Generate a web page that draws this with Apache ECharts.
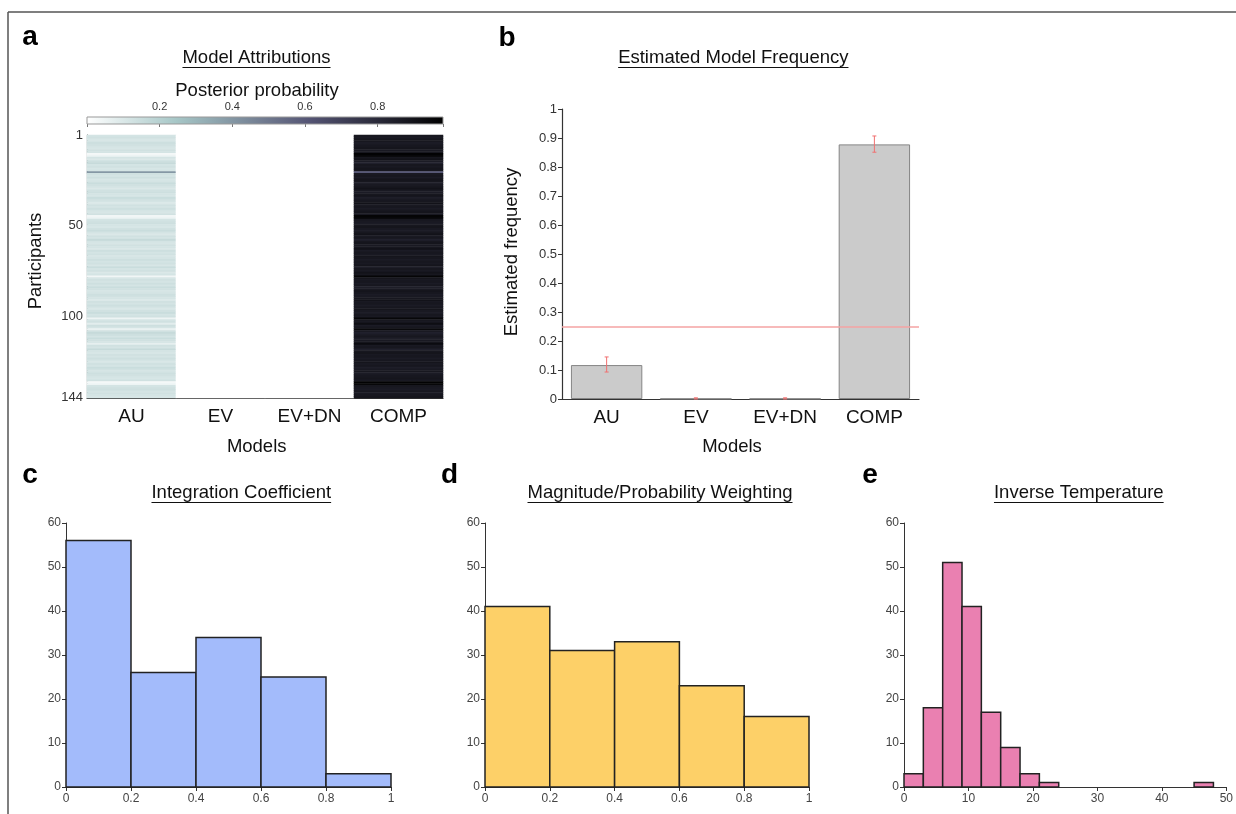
<!DOCTYPE html>
<html><head><meta charset="utf-8">
<script src="https://cdn.jsdelivr.net/npm/echarts@6/dist/echarts.min.js"></script>
<style>html,body{margin:0;padding:0;background:#fff}#c{width:1236px;height:814px}</style>
</head><body><div id="c"></div>
<script>
// ---------------- DATA ----------------
const models = ['AU', 'EV', 'EV+DN', 'COMP'];
const participantTicks = [1, 50, 100, 144];
const attribAU = [
  0.12,0.13,0.11,0.12,0.14,0.13,0.12,0.11,0.13,0.12,
  0.03,0.05,0.12,0.10,0.14,0.16,0.12,0.13,0.11,0.12,
  0.40,0.13,0.12,0.14,0.11,0.12,0.15,0.13,0.12,0.10,
  0.13,0.14,0.12,0.11,0.15,0.13,0.12,0.10,0.13,0.12,
  0.14,0.12,0.11,0.13,0.04,0.05,0.12,0.13,0.14,0.12,
  0.11,0.13,0.15,0.12,0.10,0.13,0.12,0.16,0.12,0.11,
  0.13,0.12,0.10,0.14,0.12,0.13,0.11,0.12,0.14,0.12,
  0.13,0.11,0.15,0.12,0.13,0.10,0.12,0.04,0.11,0.13,
  0.12,0.14,0.12,0.15,0.13,0.11,0.12,0.14,0.13,0.12,
  0.10,0.13,0.12,0.14,0.12,0.11,0.13,0.15,0.12,0.13,
  0.05,0.12,0.13,0.08,0.14,0.12,0.06,0.13,0.16,0.14,
  0.12,0.15,0.13,0.11,0.07,0.13,0.12,0.16,0.12,0.11,
  0.13,0.12,0.14,0.12,0.11,0.13,0.12,0.15,0.13,0.12,
  0.14,0.13,0.12,0.11,0.13,0.03,0.05,0.12,0.13,0.14,
  0.12,0.13,0.12,0.11
];
const attribEV = [
  0,0,0,0,0,0,0,0,0,0, 0,0,0,0,0,0,0,0,0,0, 0,0,0,0,0,0,0,0,0,0,
  0,0,0,0,0,0,0,0,0,0, 0,0,0,0,0,0,0,0,0,0, 0,0,0,0,0,0,0,0,0,0,
  0,0,0,0,0,0,0,0,0,0, 0,0,0,0,0,0,0,0,0,0, 0,0,0,0,0,0,0,0,0,0,
  0,0,0,0,0,0,0,0,0,0, 0,0,0,0,0,0,0,0,0,0, 0,0,0,0,0,0,0,0,0,0,
  0,0,0,0,0,0,0,0,0,0, 0,0,0,0,0,0,0,0,0,0, 0,0,0,0
];
const attribEVDN = [
  0,0,0,0,0,0,0,0,0,0, 0,0,0,0,0,0,0,0,0,0, 0,0,0,0,0,0,0,0,0,0,
  0,0,0,0,0,0,0,0,0,0, 0,0,0,0,0,0,0,0,0,0, 0,0,0,0,0,0,0,0,0,0,
  0,0,0,0,0,0,0,0,0,0, 0,0,0,0,0,0,0,0,0,0, 0,0,0,0,0,0,0,0,0,0,
  0,0,0,0,0,0,0,0,0,0, 0,0,0,0,0,0,0,0,0,0, 0,0,0,0,0,0,0,0,0,0,
  0,0,0,0,0,0,0,0,0,0, 0,0,0,0,0,0,0,0,0,0, 0,0,0,0
];
const attribCOMP = [
  0.88,0.87,0.89,0.88,0.86,0.87,0.88,0.89,0.87,0.88,
  0.97,0.95,0.88,0.90,0.86,0.84,0.88,0.87,0.89,0.88,
  0.60,0.87,0.88,0.86,0.89,0.88,0.85,0.87,0.88,0.90,
  0.87,0.86,0.88,0.89,0.85,0.87,0.88,0.90,0.87,0.88,
  0.86,0.88,0.89,0.87,0.96,0.95,0.88,0.87,0.86,0.88,
  0.89,0.87,0.85,0.88,0.90,0.87,0.88,0.84,0.88,0.89,
  0.87,0.88,0.90,0.86,0.88,0.87,0.89,0.88,0.86,0.88,
  0.87,0.89,0.85,0.88,0.87,0.90,0.88,0.96,0.89,0.87,
  0.88,0.86,0.88,0.85,0.87,0.89,0.88,0.86,0.87,0.88,
  0.90,0.87,0.88,0.86,0.88,0.89,0.87,0.85,0.88,0.87,
  0.95,0.88,0.87,0.92,0.86,0.88,0.94,0.87,0.84,0.86,
  0.88,0.85,0.87,0.89,0.93,0.87,0.88,0.84,0.88,0.89,
  0.87,0.88,0.86,0.88,0.89,0.87,0.88,0.85,0.87,0.88,
  0.86,0.87,0.88,0.89,0.87,0.97,0.95,0.88,0.87,0.86,
  0.88,0.87,0.88,0.89
];
const colorbarRange = [0, 0.98];
const colorbarTicks = [0.2, 0.4, 0.6, 0.8];

const freqMean = [0.117, 0.001, 0.001, 0.878];
const freqLow  = [0.093, 0.000, 0.000, 0.851];
const freqHigh = [0.145, 0.004, 0.004, 0.907];
const chanceLevel = 0.25;

const integBinStart = [0, 0.2, 0.4, 0.6, 0.8];
const integBinEnd   = [0.2, 0.4, 0.6, 0.8, 1.0];
const integCounts   = [56, 26, 34, 25, 3];

const weightBinStart = [0, 0.2, 0.4, 0.6, 0.8];
const weightBinEnd   = [0.2, 0.4, 0.6, 0.8, 1.0];
const weightCounts   = [41, 31, 33, 23, 16];

const tempBinStart = [0, 3, 6, 9, 12, 15, 18, 21, 45];
const tempBinEnd   = [3, 6, 9, 12, 15, 18, 21, 24, 48];
const tempCounts   = [3, 18, 51, 41, 17, 9, 3, 1, 1];

// ---------------- STYLE ----------------
const FONT = '"Liberation Sans", Arial, Helvetica, sans-serif';
const boneR = ['#ffffff','#d3e3e3','#a7c7c7','#8ba1ab','#707a8f','#545474','#38384d','#1c1c26','#000000'];
const AX = '#333333';

const chart = echarts.init(document.getElementById('c'), null, {renderer: 'canvas'});

// heatmap data
const participants = [];
for (let i = 1; i <= attribAU.length; i++) participants.push(String(i));
const attribCols = [attribAU, attribEV, attribEVDN, attribCOMP];
const heatData = [];
attribCols.forEach((col, xi) => col.forEach((v, yi) => heatData.push([xi, yi, v])));

function histSeries(xi, starts, ends, counts, color) {
  return {
    type: 'custom', xAxisIndex: xi, yAxisIndex: xi,
    data: counts.map((c, i) => [starts[i], ends[i], c]),
    encode: {x: [0, 1], y: 2},
    renderItem: function (params, api) {
      const p0 = api.coord([api.value(0), api.value(2)]);
      const p1 = api.coord([api.value(1), 0]);
      return {type: 'rect', shape: {x: p0[0], y: p0[1], width: p1[0] - p0[0], height: p1[1] - p0[1]},
        style: {fill: color, stroke: '#222', lineWidth: 1.5}};
    }
  };
}

function histX(grid, max, interval) {
  return {type: 'value', gridIndex: grid, min: 0, max: max, interval: interval,
    axisLine: {lineStyle: {color: AX, width: 1}}, axisTick: {length: 4, lineStyle: {color: AX}},
    axisLabel: {fontFamily: FONT, fontSize: 12, color: '#444', margin: 6}, splitLine: {show: false}};
}
function histY(grid) {
  return {type: 'value', gridIndex: grid, min: 0, max: 60, interval: 10,
    axisLine: {show: true, lineStyle: {color: AX, width: 1}}, axisTick: {show: true, length: 4, lineStyle: {color: AX}},
    axisLabel: {fontFamily: FONT, fontSize: 12, color: '#444', margin: 5}, splitLine: {show: false}};
}

// text measurement for underlines
const mctx = document.createElement('canvas').getContext('2d');
function tw(text, size) { mctx.font = size + 'px ' + FONT; return mctx.measureText(text).width; }

const graphics = [];
// frame
graphics.push({type: 'line', shape: {x1: 8, y1: 12, x2: 1236, y2: 12}, style: {stroke: '#555', lineWidth: 1.5}});
graphics.push({type: 'line', shape: {x1: 8, y1: 12, x2: 8, y2: 814}, style: {stroke: '#555', lineWidth: 1.5}});
// panel letters
[['a', 30, 37], ['b', 507, 38], ['c', 30, 475], ['d', 449.5, 475], ['e', 870, 475]].forEach(l => {
  graphics.push({type: 'text', x: l[1], y: l[2], style: {text: l[0], font: 'bold 28px ' + FONT, fill: '#000', align: 'center', verticalAlign: 'middle'}});
});
// titles with underline
function title(text, cx, cy, size) {
  const w = tw(text, size);
  graphics.push({type: 'text', x: cx, y: cy, style: {text: text, font: size + 'px ' + FONT, fill: '#111', align: 'center', verticalAlign: 'middle'}});
  graphics.push({type: 'line', shape: {x1: cx - w / 2, y1: cy + 9.5, x2: cx + w / 2, y2: cy + 9.5}, style: {stroke: '#111', lineWidth: 1.2}});
}
title('Model Attributions', 256.5, 58, 18.5);
title('Estimated Model Frequency', 733.3, 58, 18.5);
title('Integration Coefficient', 241.3, 493, 18.5);
title('Magnitude/Probability Weighting', 660, 493, 18.5);
title('Inverse Temperature', 1078.8, 493, 18.5);
// other texts
function txt(text, x, y, size, rot) {
  graphics.push({type: 'text', x: x, y: y, rotation: rot || 0,
    style: {text: text, font: size + 'px ' + FONT, fill: '#111', align: 'center', verticalAlign: 'middle'}});
}
txt('Posterior probability', 257, 91, 18.5);
txt('Models', 256.7, 447, 18.5);
txt('Models', 732, 447, 18.5);
txt('Participants', 36, 261, 18.5, Math.PI / 2);
txt('Estimated frequency', 512, 252, 18.5, Math.PI / 2);

const option = {
  animation: false,
  backgroundColor: '#ffffff',
  textStyle: {fontFamily: FONT},
  grid: [
    {left: 87, top: 117, width: 356, height: 7},
    {left: 87, top: 135, width: 356, height: 263},
    {left: 562, top: 109, width: 357, height: 290},
    {left: 66, top: 523, width: 325, height: 264},
    {left: 485, top: 523, width: 324, height: 264},
    {left: 904, top: 523, width: 324, height: 264}
  ],
  visualMap: {show: false, type: 'continuous', seriesIndex: [1], min: colorbarRange[0], max: colorbarRange[1],
    inRange: {color: boneR}},
  xAxis: [
    {type: 'value', gridIndex: 0, position: 'top', min: colorbarRange[0], max: colorbarRange[1], interval: 0.2,
      axisLine: {show: false}, axisTick: {show: true, inside: true, length: 3, lineStyle: {color: '#777'}},
      axisLabel: {fontFamily: FONT, fontSize: 11, color: '#333', margin: 5,
        formatter: v => colorbarTicks.some(t => Math.abs(t - v) < 1e-6) ? v.toFixed(1) : ''},
      splitLine: {show: false}},
    {type: 'category', gridIndex: 1, data: models,
      axisLine: {lineStyle: {color: AX, width: 1.2}}, axisTick: {alignWithLabel: true, length: 5, lineStyle: {color: AX}},
      axisLabel: {fontFamily: FONT, fontSize: 19, color: '#111', margin: 9}},
    {type: 'category', gridIndex: 2, data: models,
      axisLine: {lineStyle: {color: AX, width: 1.2}}, axisTick: {alignWithLabel: true, length: 5, lineStyle: {color: AX}},
      axisLabel: {fontFamily: FONT, fontSize: 19, color: '#111', margin: 9}},
    histX(3, 1, 0.2), histX(4, 1, 0.2), histX(5, 50, 10)
  ],
  yAxis: [
    {type: 'value', gridIndex: 0, min: 0, max: 1, show: false},
    {type: 'category', gridIndex: 1, data: participants, inverse: true,
      axisLine: {lineStyle: {color: AX, width: 1.2}},
      axisTick: {alignWithLabel: true, length: 4, interval: (i, v) => participantTicks.includes(+v), lineStyle: {color: AX}},
      axisLabel: {fontFamily: FONT, fontSize: 13, color: '#333', margin: 4, interval: (i, v) => participantTicks.includes(+v)}},
    {type: 'value', gridIndex: 2, min: 0, max: 1, interval: 0.1,
      axisLine: {show: true, lineStyle: {color: AX, width: 1.2}}, axisTick: {show: true, length: 4, lineStyle: {color: AX}},
      axisLabel: {fontFamily: FONT, fontSize: 13, color: '#333', margin: 5}, splitLine: {show: false}},
    histY(3), histY(4), histY(5)
  ],
  series: [
    // colorbar
    {type: 'custom', xAxisIndex: 0, yAxisIndex: 0, silent: true,
      data: [[colorbarRange[0], colorbarRange[1]]],
      renderItem: function (params, api) {
        const a = api.coord([api.value(0), 1]);
        const b = api.coord([api.value(1), 0]);
        const stops = boneR.map((c, i) => ({offset: i / (boneR.length - 1), color: c}));
        return {type: 'rect', shape: {x: a[0], y: a[1], width: b[0] - a[0], height: b[1] - a[1]},
          style: {fill: new echarts.graphic.LinearGradient(0, 0, 1, 0, stops), stroke: '#999', lineWidth: 1}};
      }},
    // heatmap
    {type: 'heatmap', xAxisIndex: 1, yAxisIndex: 1, data: heatData, silent: true,
      itemStyle: {borderWidth: 0}, emphasis: {disabled: true}, progressive: 0},
    // frequency bars
    {type: 'bar', xAxisIndex: 2, yAxisIndex: 2, data: freqMean, barWidth: '80%', silent: true,
      itemStyle: {color: '#cbcbcb', borderColor: '#858585', borderWidth: 1},
      markLine: {silent: true, symbol: 'none', label: {show: false},
        lineStyle: {color: '#f5a3a3', width: 1.5, type: 'solid'}, data: [{yAxis: chanceLevel}]}},
    // error bars
    {type: 'custom', xAxisIndex: 2, yAxisIndex: 2, silent: true, z: 5,
      data: freqMean.map((m, i) => [i, freqLow[i], freqHigh[i]]),
      renderItem: function (params, api) {
        const lo = api.coord([api.value(0), api.value(1)]);
        const hi = api.coord([api.value(0), api.value(2)]);
        const st = {stroke: '#f07070', lineWidth: 1};
        return {type: 'group', children: [
          {type: 'line', shape: {x1: lo[0], y1: lo[1], x2: hi[0], y2: hi[1]}, style: st},
          {type: 'line', shape: {x1: lo[0] - 2, y1: lo[1], x2: lo[0] + 2, y2: lo[1]}, style: st},
          {type: 'line', shape: {x1: hi[0] - 2, y1: hi[1], x2: hi[0] + 2, y2: hi[1]}, style: st}
        ]};
      }},
    histSeries(3, integBinStart, integBinEnd, integCounts, '#a3bbfb'),
    histSeries(4, weightBinStart, weightBinEnd, weightCounts, '#fdd068'),
    histSeries(5, tempBinStart, tempBinEnd, tempCounts, '#ea80b1')
  ],
  graphic: graphics
};
chart.setOption(option);
</script>
</body></html>
